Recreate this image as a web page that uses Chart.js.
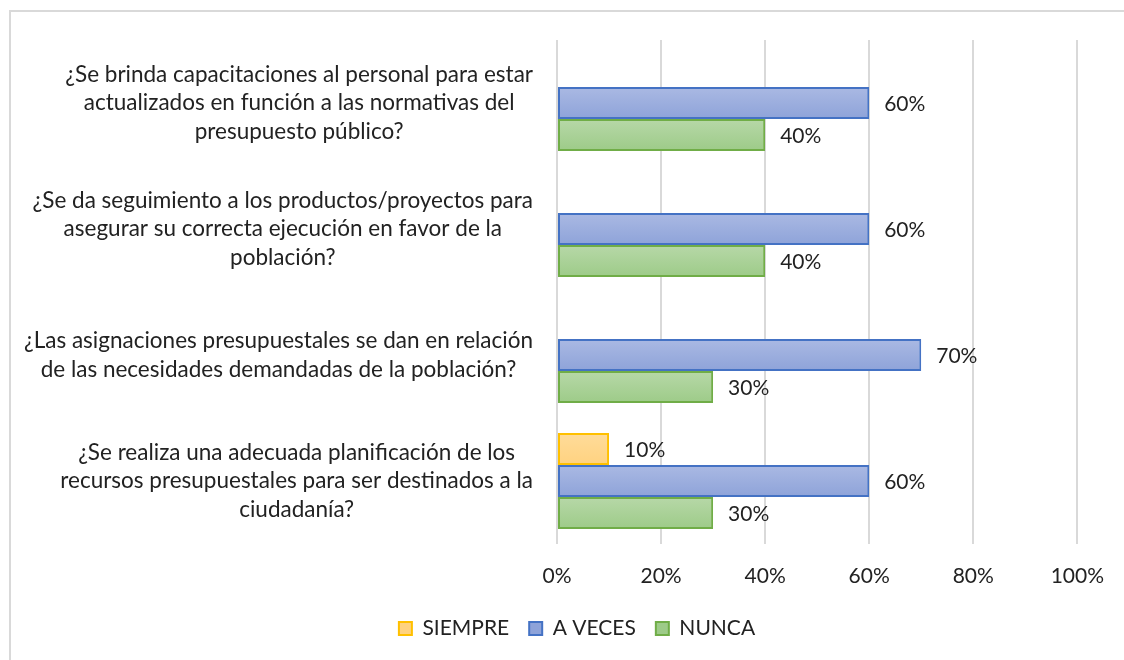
<!DOCTYPE html>
<html lang="es">
<head>
<meta charset="UTF-8">
<title>Presupuesto</title>
<script src="https://cdn.jsdelivr.net/npm/chart.js"></script>
<style>
  body { margin: 0; background: #fff; overflow: hidden; }
  #frame {
    position: absolute; left: 9px; top: 10px; width: 1200px; height: 700px;
    border: 2px solid #d9d9d9; box-sizing: border-box;
  }
  #wrap { position: absolute; left: 0; top: 0; width: 1124px; height: 660px; }
</style>
</head>
<body>
<div id="frame"></div>
<div id="wrap"><canvas id="chart"></canvas></div>
<script>
  // preguntas (una linea por renglon, como en el original)
  const questions = [
    ['¿Se brinda capacitaciones al personal para estar', 'actualizados en función a las normativas del', 'presupuesto público?'],
    ['¿Se da seguimiento a los productos/proyectos para', 'asegurar su correcta ejecución en favor de la', 'población?'],
    ['¿Las asignaciones presupuestales se dan en relación', 'de las necesidades demandadas de la población?'],
    ['¿Se realiza una adecuada planificación de los', 'recursos presupuestales para ser destinados a la', 'ciudadanía?']
  ];
  const seriesNames = ['SIEMPRE', 'A VECES', 'NUNCA'];
  const siempre = [0, 0, 0, 10];
  const aVeces = [60, 60, 70, 60];
  const nunca = [40, 40, 30, 30];
  const xTicks = [0, 20, 40, 60, 80, 100];

  const FONT = 'Lato, Calibri, sans-serif';
  const CAT_PCT = 0.762;

  // vertical gradient per bar, like the Excel fill
  function barFill(topColor, bottomColor) {
    return function (ctx) {
      const chart = ctx.chart;
      const y = chart.scales && chart.scales.y;
      if (ctx.type !== 'data' || !y) return bottomColor;
      const band = (y.bottom - y.top) / questions.length;
      const barH = band * CAT_PCT / seriesNames.length;
      const start = y.getPixelForValue(ctx.dataIndex) - band * CAT_PCT / 2 + ctx.datasetIndex * barH;
      if (!isFinite(start) || !isFinite(barH) || barH <= 0) return bottomColor;
      const g = chart.ctx.createLinearGradient(0, start, 0, start + barH);
      g.addColorStop(0, topColor);
      g.addColorStop(1, bottomColor);
      return g;
    };
  }

  // labels "60%" to the right of each bar
  const valueLabels = {
    id: 'valueLabels',
    afterDatasetsDraw(chart) {
      const c = chart.ctx;
      c.save();
      c.font = '21px ' + FONT;
      c.fillStyle = '#222';
      c.textAlign = 'left';
      c.textBaseline = 'middle';
      chart.data.datasets.forEach((ds, i) => {
        chart.getDatasetMeta(i).data.forEach((bar, j) => {
          const v = ds.data[j];
          if (!v) return;
          c.fillText(v + '%', bar.x + 15, bar.y + 1);
        });
      });
      c.restore();
    }
  };

  // category text: each block right-aligned to the axis, lines centred inside the block (Excel style)
  const questionLabels = {
    id: 'questionLabels',
    afterDraw(chart) {
      const s = chart.scales.y;
      const c = chart.ctx;
      c.save();
      c.font = '22.5px ' + FONT;
      c.fillStyle = '#222';
      c.textAlign = 'center';
      c.textBaseline = 'middle';
      questions.forEach((lines, i) => {
        const w = Math.max(...lines.map(l => c.measureText(l).width));
        const cx = s.right - 24 - w / 2;
        const cy = s.getPixelForTick(i);
        lines.forEach((l, k) => c.fillText(l, cx, cy + (k - (lines.length - 1) / 2) * 28.5));
      });
      c.restore();
    }
  };

  new Chart(document.getElementById('chart'), {
    type: 'bar',
    data: {
      labels: questions,
      datasets: [
        { label: seriesNames[0], data: siempre, backgroundColor: barFill('#ffdc9a', '#ffd280'), borderColor: '#ffc000' },
        { label: seriesNames[1], data: aVeces, backgroundColor: barFill('#aab9e3', '#8ea3d9'), borderColor: '#4472c4' },
        { label: seriesNames[2], data: nunca, backgroundColor: barFill('#b7d8a8', '#9dcb88'), borderColor: '#70ad47' }
      ]
    },
    options: {
      indexAxis: 'y',
      responsive: true,
      maintainAspectRatio: false,
      animation: false,
      layout: { padding: { left: 76, right: 46, top: 40, bottom: 11 } },
      datasets: {
        bar: { borderWidth: 2, borderSkipped: false, barPercentage: 1, categoryPercentage: CAT_PCT }
      },
      scales: {
        x: {
          min: 0, max: 100,
          afterBuildTicks: s => { s.ticks = xTicks.map(v => ({ value: v })); },
          afterFit: s => { s.height = 54; },
          ticks: { callback: v => v + '%', color: '#222', padding: 20, font: { family: FONT, size: 21 } },
          grid: { color: '#d9d9d9', lineWidth: 2, drawTicks: false },
          border: { display: false }
        },
        y: {
          afterFit: s => { s.width = 481; s.paddingTop = 0; s.paddingBottom = 0; },
          ticks: { display: false },
          grid: { display: false, drawTicks: false },
          border: { display: false }
        }
      },
      plugins: {
        legend: {
          position: 'bottom',
          labels: { boxWidth: 13, boxHeight: 13, padding: 20, color: '#222', font: { family: FONT, size: 21 } }
        },
        tooltip: { enabled: false }
      }
    },
    plugins: [valueLabels, questionLabels]
  });
</script>
</body>
</html>
